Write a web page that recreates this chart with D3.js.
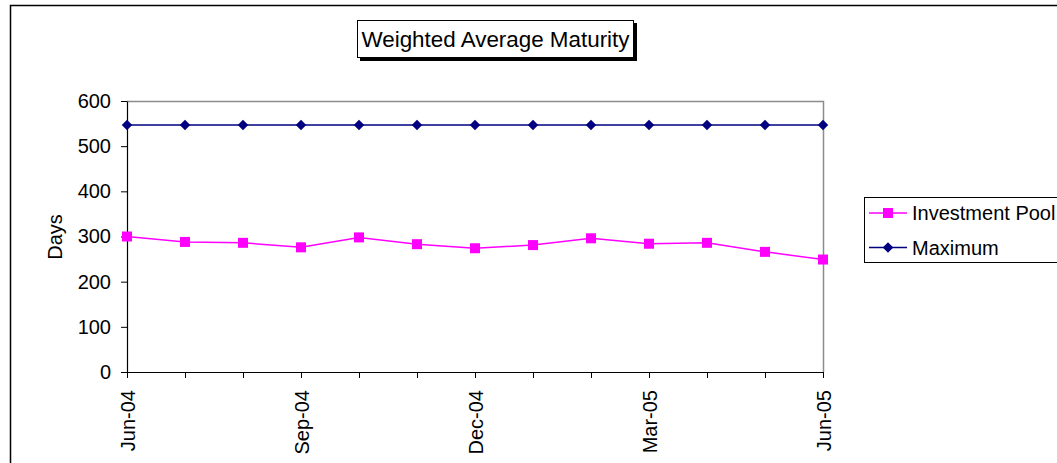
<!DOCTYPE html>
<html><head><meta charset="utf-8">
<script src="https://cdn.jsdelivr.net/npm/d3@7"></script>
<style>body{margin:0;background:#fff;}svg{display:block;font-family:"Liberation Sans",Arial,sans-serif;}</style>
</head><body>
<svg id="c" width="1057" height="463"></svg>
<script>
const months = ["Jun-04","Jul-04","Aug-04","Sep-04","Oct-04","Nov-04","Dec-04","Jan-05","Feb-05","Mar-05","Apr-05","May-05","Jun-05"];
const investmentPool = [300,288,286,276,298,283,274,281,296,284,286,266,249];
const maximum = [547,547,547,547,547,547,547,547,547,547,547,547,547];
const yTicks = [0,100,200,300,400,500,600];
const shownLabels = ["Jun-04","Sep-04","Dec-04","Mar-05","Jun-05"];
const title = "Weighted Average Maturity";
const yTitle = "Days";
const seriesNames = ["Investment Pool","Maximum"];

const svg = d3.select("#c");
const L=127, R=823, T=101, B=372;
const x = d3.scalePoint().domain(months).range([L,R]);
const y = d3.scaleLinear().domain([0,600]).range([B,T]);

// outer border
svg.append("rect").attr("x",10.5).attr("y",5.5).attr("width",1100).attr("height",500)
  .attr("fill","none").attr("stroke","#000").attr("stroke-width",1.5);

// plot frame (top/right grey)
svg.append("path").attr("d",`M${L},${T+0.5}H${R+0.5}V${B}`).attr("fill","none").attr("stroke","#8c8c8c").attr("stroke-width",1.5);

// y axis
const ya = svg.append("g").attr("transform",`translate(${L},0)`)
  .call(d3.axisLeft(y).tickValues(yTicks).tickSize(6).tickPadding(10).tickSizeOuter(0));
ya.select(".domain").attr("stroke","#000").attr("stroke-width",1.2);
ya.selectAll("text").attr("font-size",20).attr("font-family","Liberation Sans, Arial").attr("fill","#000");

// x axis
const xa = svg.append("g").attr("transform",`translate(0,${B})`)
  .call(d3.axisBottom(x).tickSize(6).tickSizeOuter(0).tickFormat(d=>shownLabels.includes(d)?d:""));
xa.select(".domain").attr("stroke","#000").attr("stroke-width",1.2);
xa.selectAll("text").attr("font-size",20).attr("font-family","Liberation Sans, Arial").attr("fill","#000")
  .attr("transform","rotate(-90)").attr("text-anchor","end").attr("dx","-18").attr("dy","0.35em").attr("x",null).attr("y",0);

// y title
svg.append("text").attr("transform","translate(62,237) rotate(-90)").attr("text-anchor","middle")
  .attr("font-size",20).text(yTitle);

// lines
const line = d3.line().x((d,i)=>x(months[i])).y(d=>y(d));
svg.append("path").datum(maximum).attr("d",line).attr("fill","none").attr("stroke","#000080").attr("stroke-width",1.5);
svg.append("path").datum(investmentPool).attr("d",line).attr("fill","none").attr("stroke","#ff00ff").attr("stroke-width",1.5);

const diamond = d3.symbol().type(d3.symbolDiamond2).size(70);
svg.append("g").selectAll("path").data(maximum).join("path")
  .attr("d",diamond).attr("transform",(d,i)=>`translate(${x(months[i])},${y(d)})`).attr("fill","#000080");
svg.append("g").selectAll("rect").data(investmentPool).join("rect")
  .attr("x",(d,i)=>x(months[i])-5).attr("y",d=>y(d)-5).attr("width",10).attr("height",10).attr("fill","#ff00ff");

// title box
const tg = svg.append("g");
tg.append("rect").attr("x",360).attr("y",23).attr("width",277).attr("height",38).attr("fill","#000");
tg.append("rect").attr("x",357.5).attr("y",20.5).attr("width",276).attr("height",37).attr("fill","#fff").attr("stroke","#000").attr("stroke-width",1);
tg.append("text").attr("x",495.5).attr("y",47).attr("text-anchor","middle").attr("font-size",22.4).text(title);

// legend
const lg = svg.append("g");
lg.append("rect").attr("x",864.5).attr("y",197.5).attr("width",250).attr("height",65).attr("fill","#fff").attr("stroke","#000").attr("stroke-width",1);
const rows=[{y:213,c:"#ff00ff",t:"sq"},{y:247.5,c:"#000080",t:"di"}];
rows.forEach((r,i)=>{
  lg.append("line").attr("x1",869).attr("x2",907).attr("y1",r.y).attr("y2",r.y).attr("stroke",r.c).attr("stroke-width",1.5);
  if(r.t==="sq") lg.append("rect").attr("x",883).attr("y",r.y-5).attr("width",10).attr("height",10).attr("fill",r.c);
  else lg.append("path").attr("d",diamond).attr("transform",`translate(888,${r.y})`).attr("fill",r.c);
  lg.append("text").attr("x",912).attr("y",r.y+7).attr("font-size",20).text(seriesNames[i]);
});
</script>
</body></html>
